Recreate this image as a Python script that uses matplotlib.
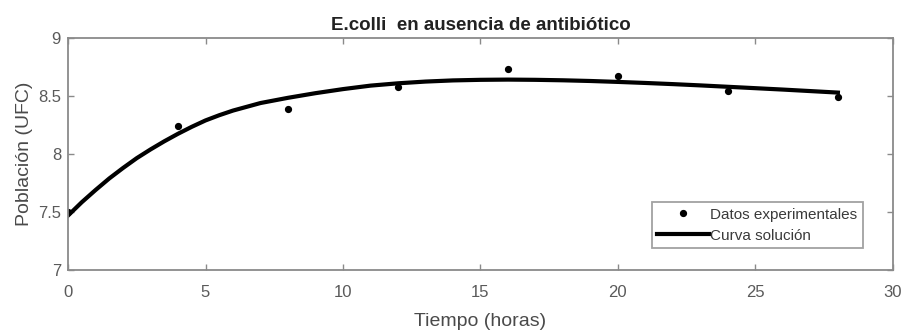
import matplotlib
matplotlib.use("Agg")
import matplotlib.pyplot as plt

# Experimental data
t_data = [0, 4, 8, 12, 16, 20, 24, 28]
pop_data = [7.50, 8.24, 8.39, 8.58, 8.73, 8.67, 8.54, 8.49]

# Solution curve
t_curve = [0, 0.5, 1, 1.5, 2, 2.5, 3, 3.5, 4, 4.5, 5, 5.5, 6, 7, 8, 9, 10, 11, 12,
           13, 14, 15, 16, 17, 18, 19, 20, 21, 22, 23, 24, 25, 26, 27, 28]
pop_curve = [7.47, 7.585, 7.69, 7.79, 7.88, 7.965, 8.04, 8.11, 8.175, 8.235, 8.29,
             8.335, 8.375, 8.44, 8.485, 8.525, 8.56, 8.59, 8.61, 8.625, 8.635, 8.64,
             8.642, 8.64, 8.636, 8.63, 8.622, 8.613, 8.603, 8.592, 8.58, 8.568,
             8.556, 8.543, 8.53]

xticks = [0, 5, 10, 15, 20, 25, 30]
yticks = [7, 7.5, 8, 8.5, 9]
ytick_labels = ["7", "7.5", "8", "8.5", "9"]

plt.rcParams['font.family'] = ['Liberation Sans', 'DejaVu Sans']

fig = plt.figure(figsize=(9.01, 3.31), dpi=100)
ax = fig.add_axes([0.0755, 0.184, 0.9155, 0.701])

ax.plot(t_data, pop_data, 'o', color='black', markersize=4.2, label='Datos experimentales')
ax.plot(t_curve, pop_curve, '-', color='black', linewidth=3, label='Curva solución')

ax.set_xlim(0, 30)
ax.set_ylim(7, 9)
ax.set_xticks(xticks)
ax.set_yticks(yticks)
ax.set_yticklabels(ytick_labels)

axis_color = '#8a8a8a'
for s in ax.spines.values():
    s.set_color(axis_color)
    s.set_linewidth(1.3)
ax.tick_params(direction='in', length=4, width=1, color=axis_color, labelcolor='#5a5a5a',
               labelsize=12, top=True, right=True)
ax.tick_params(axis='x', pad=11)
ax.tick_params(axis='y', pad=5)

ax.set_title('E.colli  en ausencia de antibiótico', fontsize=13.5, fontweight='bold',
             color='#222222', pad=6)
ax.set_xlabel('Tiempo (horas)', fontsize=14, color='#4a4a4a', labelpad=9)
ax.set_ylabel('Población (UFC)', fontsize=14, color='#4a4a4a', labelpad=4)

leg = ax.legend(loc='lower right', bbox_to_anchor=(0.9636, 0.095), borderaxespad=0,
                fontsize=11, frameon=True, fancybox=False, edgecolor=axis_color,
                handlelength=3.4, handletextpad=0.1, borderpad=0.35, labelspacing=0.45)
leg.get_frame().set_linewidth(1.3)
for txt in leg.get_texts():
    txt.set_color('#3a3a3a')

fig.savefig('out.png', dpi=100)
